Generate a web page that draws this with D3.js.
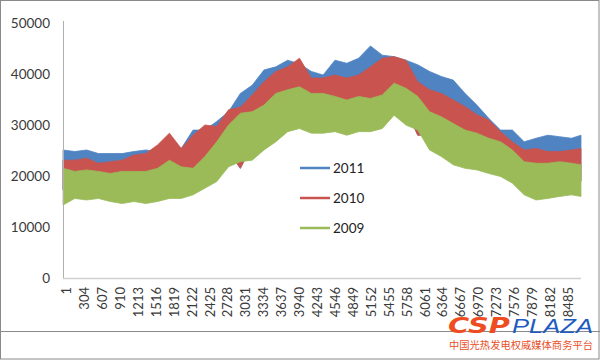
<!DOCTYPE html>
<html>
<head>
<meta charset="utf-8">
<script src="https://cdn.jsdelivr.net/npm/d3@7"></script>
<style>
  html, body { margin: 0; padding: 0; background: #fff; }
  svg { display: block; }
</style>
</head>
<body>
<svg id="chart" width="600" height="360"></svg>
<script>
// ---- data (hourly load envelopes) ----
const hours = [1,200,400,600,800,1000,1200,1400,1600,1800,2000,2200,2400,2600,2800,3000,3200,3400,3600,3800,4000,4200,4400,4600,4800,5000,5200,5400,5600,5800,6000,6200,6400,6600,6800,7000,7200,7400,7600,7800,8000,8200,8400,8600,8760];

const high2011 = [25100,24800,25100,24400,24400,24400,24800,25100,24800,25500,25400,29000,29000,30700,32600,36200,37800,40800,41400,42700,42000,40500,39800,42700,42100,43100,45500,43700,43400,42700,41800,40500,39500,38800,36200,33900,31300,29000,29000,26700,27400,28000,27700,27400,28000];
const low2011  = [17300,18600,18300,18600,18000,17600,18000,17600,18000,18600,18600,19300,20600,21900,24800,21500,26100,28100,29700,31700,32300,31400,31400,31700,31000,31700,31700,32300,34900,33000,28000,28100,26800,25200,24500,24200,23500,22900,21600,19300,18300,18600,19000,19300,19000];

const high2010 = [23100,23100,23500,22500,22800,23100,24100,24400,26100,28400,25400,28000,30000,29700,33000,33500,35900,38500,40500,41400,43100,39200,39200,39800,39200,39800,41400,43100,43400,42700,38500,36900,36200,34900,33600,32000,31000,28700,26700,25100,25400,24800,24800,25100,25400];
const low2010  = [17300,18600,18300,18600,18000,17600,18000,17600,18000,18600,18600,19300,20600,21900,24800,21500,26100,28100,29700,31700,32300,31400,31400,31700,31000,31700,31700,32300,34900,33000,28000,28100,26800,25200,24500,24200,23500,22900,21600,19300,18300,18600,19000,19300,19000];

const high2009 = [21500,20900,21200,20900,20500,20900,20900,20900,21500,23100,21800,21500,23800,26700,30000,32300,32600,33900,36200,36900,37500,36200,36200,35600,34900,35600,35200,35900,38200,37200,35600,32600,31600,30300,29000,28400,27400,26700,25100,22800,22500,22500,22800,22500,22200];
const low2009  = [14300,15600,15300,15600,15000,14600,15000,14600,15000,15600,15600,16300,17600,18900,21800,22800,23100,25100,26700,28700,29300,28400,28400,28700,28000,28700,28700,29300,31900,30000,29000,25100,23800,22200,21500,21200,20500,19900,18600,16300,15300,15600,16000,16300,16000];

const seriesNames  = ["2011","2010","2009"];
const seriesColors = ["#4f83c2","#c9534e","#9bbb59"];
const yTicks = [0,10000,20000,30000,40000,50000];
const xTickLabels = [1,304,607,910,1213,1516,1819,2122,2425,2728,3031,3334,3637,3940,4243,4546,4849,5152,5455,5758,6061,6364,6667,6970,7273,7576,7879,8182,8485];

// ---- layout ----
const svg = d3.select("#chart");
const plotLeft = 63, plotRight = 581, plotTop = 23, plotBottom = 278;
const x = d3.scaleLinear().domain([0.5, 8760.5]).range([plotLeft, plotRight]);
const y = d3.scaleLinear().domain([0, 50000]).range([plotBottom, plotTop]);
const textFont = "Lato, 'Open Sans', 'DejaVu Sans', sans-serif";

svg.append("rect").attr("x",0).attr("y",0).attr("width",600).attr("height",360).attr("fill","#fff");

// series bands (2011 behind, 2009 in front)
const bands = [
  {name:"2011", hi:high2011, lo:low2011, color:seriesColors[0]},
  {name:"2010", hi:high2010, lo:low2010, color:seriesColors[1]},
  {name:"2009", hi:high2009, lo:low2009, color:seriesColors[2]}
];
const area = d3.area()
  .x((d,i)=>x(hours[i]))
  .y0(d=>y(d[0]))
  .y1(d=>y(d[1]));
bands.forEach(b=>{
  const pts = hours.map((h,i)=>[b.lo[i], b.hi[i]]);
  svg.append("path").attr("d", area(pts)).attr("fill", b.color).attr("stroke", b.color).attr("stroke-width",0.8);
});

// axes
svg.append("line").attr("x1",plotLeft+0.5).attr("x2",plotLeft+0.5).attr("y1",21).attr("y2",plotBottom)
  .attr("stroke","#b0b0b0").attr("stroke-width",1);
svg.append("line").attr("x1",plotLeft).attr("x2",plotRight).attr("y1",plotBottom+0.5).attr("y2",plotBottom+0.5)
  .attr("stroke","#d0d0d0").attr("stroke-width",1.5);

svg.append("g").selectAll("text").data(yTicks).join("text")
  .attr("x", 50).attr("y", d=>y(d)).attr("dy","0.36em")
  .attr("text-anchor","end").attr("font-family",textFont).attr("font-size",13.5).attr("fill","#3a3a3a")
  .text(d=>d);

svg.append("g").selectAll("text").data(xTickLabels).join("text")
  .attr("transform", d=>`translate(${x(d)+3.5},287) rotate(-90)`)
  .attr("dy","0.36em")
  .attr("text-anchor","end").attr("font-family",textFont).attr("font-size",13).attr("fill","#3a3a3a")
  .text(d=>d);

// legend
const legendY = [168,198,228];
seriesNames.forEach((n,i)=>{
  svg.append("line").attr("x1",300).attr("x2",330).attr("y1",legendY[i]).attr("y2",legendY[i])
    .attr("stroke",seriesColors[i]).attr("stroke-width",2.5);
  svg.append("text").attr("x",333).attr("y",legendY[i]).attr("dy","0.36em")
    .attr("font-family",textFont).attr("font-size",13.5).attr("fill","#222").text(n);
});

// frame
svg.append("rect").attr("x",0.5).attr("y",0.5).attr("width",598.5).attr("height",358.5)
  .attr("fill","none").attr("stroke","#8a8a8a").attr("stroke-width",1);
svg.append("line").attr("x1",0).attr("x2",600).attr("y1",331.5).attr("y2",331.5)
  .attr("stroke","#8a8a8a").attr("stroke-width",1);

// watermark
svg.append("text").attr("x",448).attr("y",333).attr("font-family","'DejaVu Sans', sans-serif")
  .attr("font-weight","bold").attr("font-style","italic").attr("font-size",21)
  .attr("textLength",62).attr("lengthAdjust","spacingAndGlyphs").attr("fill","#ee4d22").text("CSP");
svg.append("text").attr("x",512).attr("y",333).attr("font-family","'Liberation Sans', sans-serif")
  .attr("font-style","italic").attr("font-size",21)
  .attr("textLength",81).attr("lengthAdjust","spacingAndGlyphs").attr("fill","#1f5bbf").text("PLAZA");
svg.append("text").attr("x",449).attr("y",349).attr("font-family","'Noto Sans CJK SC', sans-serif")
  .attr("font-size",10.4).attr("textLength",144).attr("lengthAdjust","spacingAndGlyphs")
  .attr("fill","#e8502a").text("中国光热发电权威媒体商务平台");
</script>
</body>
</html>
